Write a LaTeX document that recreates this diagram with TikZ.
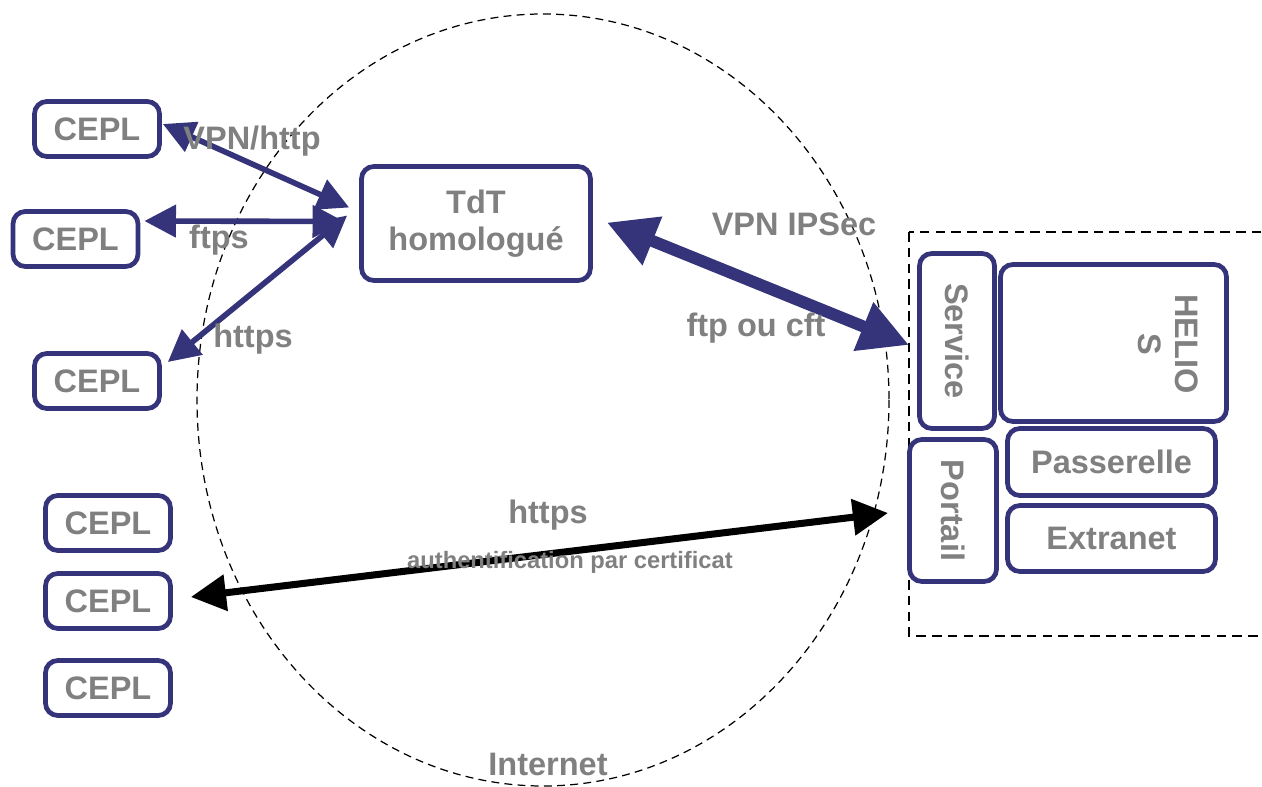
\documentclass[tikz,border=0pt]{standalone}
\usepackage{fontspec}
\setmainfont{Liberation Sans}
\usetikzlibrary{arrows.meta}
\definecolor{navy}{HTML}{35347A}
\definecolor{txtgray}{HTML}{808080}
\newcommand{\lf}{\bfseries\fontsize{18.5}{21}\selectfont}

\begin{document}
\begin{tikzpicture}[x=0.02cm,y=-0.02cm,
  box/.style={draw=navy,line width=2.7pt,rounded corners=7pt,fill=white,
    text=txtgray,font=\lf,align=center,inner sep=0pt},
  cepl/.style={box,minimum width=2.5cm,minimum height=1.1cm},
  lbl/.style={text=txtgray,font=\lf,inner sep=0pt},
  link/.style={navy,line width=3.2pt,
    {Triangle[length=18pt,width=18pt]}-{Triangle[length=18pt,width=18pt]}}]
     \useasboundingbox (0,0) rectangle (1262,787);
     % internet cloud and ministry side
     \draw[line width=0.7pt,dash pattern=on 4.5pt off 3pt]
       (543,400) ellipse [x radius=346,y radius=386];
     \draw[line width=1.4pt,dash pattern=on 5.5pt off 3.5pt]
       (909,232) rectangle (1290,636);
     \foreach \n/\x/\y in {1/97/129,2/75.5/239,3/97/381,4/108/523,5/108/601,6/108/688}
       \node[cepl] (cepl\n) at (\x,\y) {CEPL};
     \node[box,minimum width=4.58cm,minimum height=2.28cm] (tdt) at (476,223.5)
       {TdT\\homologué};
     \node[box,rotate=-90,minimum width=3.5cm,minimum height=1.5cm] (service)
       at (957,341) {Service};
     \node[box,minimum width=4.52cm,minimum height=3.14cm] (helios) at (1113.5,343) {};
     \node[lbl,rotate=-90,align=center] (helioslbl) at (1168,344) {HELIO\\S};
     \node[box,rotate=-90,minimum width=2.84cm,minimum height=1.74cm] (portail)
       at (953,510.5) {Portail};
     \node[box,minimum width=4.16cm,minimum height=1.34cm] (passerelle)
       at (1111.5,462) {Passerelle};
     \node[box,minimum width=4.16cm,minimum height=1.32cm] (extranet)
       at (1111.5,538.5) {Extranet};
     % links
     \draw[link] ([shift={(1,-5)}]cepl1.east) -- ([shift={(-10,-16)}]tdt.west);
     \draw[link] ([shift={(4,-18)}]cepl2.east) -- ([shift={(-15,-2)}]tdt.west);
     \draw[link] ([shift={(6,-19)}]cepl3.east) -- ([shift={(-12,-8)}]tdt.west);
     \draw[navy,line width=6.8pt,
       {Triangle[length=28pt,width=28pt]}-{Triangle[length=28pt,width=28pt]}]
       ([shift={(14,-1)}]tdt.east) -- ([shift={(-48,4)}]service.center);
     \draw[black,line width=4pt,
       {Triangle[length=20pt,width=20pt]}-{Triangle[length=20pt,width=20pt]}]
       ([shift={(18,-4)}]cepl5.east) -- ([shift={(-65,2.5)}]portail.center);
     % labels
     \node[lbl] (vpnhttp) at (252,141) {VPN/http};
     \node[lbl] (ftps) at (219,240) {ftps};
     \node[lbl] (httpsa) at (253,339) {https};
     \node[lbl] (ipsec) at (794,224) {VPN IPSec};
     \node[lbl] (ftpcft) at (756,328) {ftp ou cft};
     \node[lbl] (httpsb) at (548,515) {https};
     \node[lbl,font=\bfseries\fontsize{13.5}{16}\selectfont] (auth) at (570,562)
       {authentification par certificat};
     \node[lbl] (inet) at (548,764) {Internet};
\end{tikzpicture}
\end{document}
